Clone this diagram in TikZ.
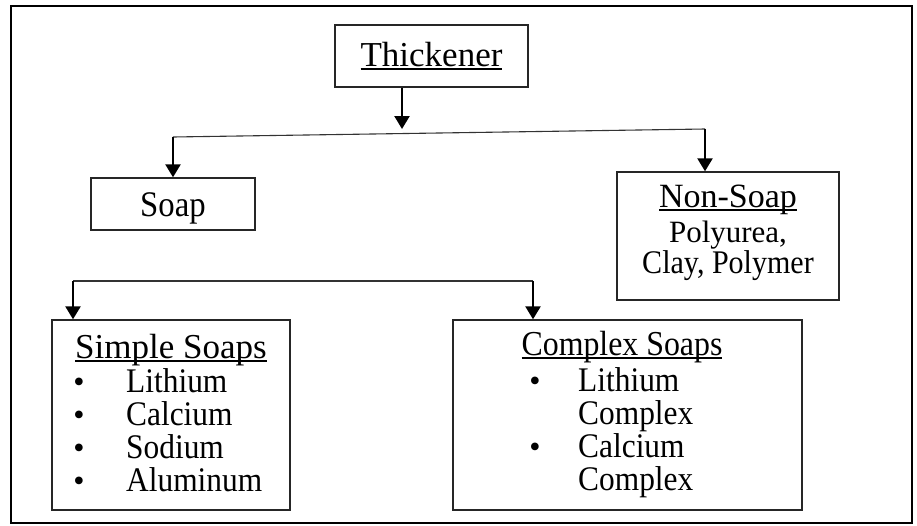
\documentclass[tikz,border=0pt]{standalone}
\usepackage{fontspec}
\setmainfont{Liberation Serif}
\newfontfamily\tallfont{Liberation Serif}[FakeStretch=0.91]
\usetikzlibrary{positioning}
\usetikzlibrary{arrows.meta}
\newcommand{\ulhead}[1]{\setbox0\hbox{#1}\rlap{\rule[-3.5pt]{\wd0}{1.6pt}}\box0}

\begin{document}
\begin{tikzpicture}
			[x=1pt,y=-1pt,
			 box/.style={rectangle,draw=black!85,line width=1.4pt,inner sep=0pt},
			 txt/.style={inner sep=0pt,anchor=base},
			 item/.style={inner sep=0pt,anchor=base west,font=\fontsize{34.5}{40}\tallfont},
			 dot/.style={inner sep=0pt,anchor=base,font=\fontsize{32}{38}\selectfont},
			 feed/.style={line width=2.4pt,-{Triangle[width=15pt,length=13pt]}},
			 branch/.style={line width=1.1pt,draw=black!80}]
			\useasboundingbox (0,0) rectangle (917,525);
			\draw[line width=2pt] (11,6) rectangle (912,523);

			\node (thick) [box,minimum width=193,minimum height=62] at (431.5,56) {};
			\node (t1) [txt,font=\fontsize{35}{42}\selectfont] at (431.5,66) {\ulhead{Thickener}};

			\node (soap) [box,minimum width=164,minimum height=52] at (173,204) {};
			\node (s1) [txt,font=\fontsize{36}{42}\tallfont] at (173,216) {Soap};

			\node (nonsoap) [box,minimum width=222,minimum height=128] at (728,236) {};
			\node (n1) [txt,font=\fontsize{34}{40}\selectfont] at (728,207) {\ulhead{Non-Soap}};
			\node (n2) [txt,font=\fontsize{31}{36}\selectfont] at (728,242) {Polyurea,};
			\node (n3) [txt,font=\fontsize{33}{38}\tallfont] at (728,273) {Clay, Polymer};

			\node (simple) [box,minimum width=238,minimum height=190] at (171,415) {};
			\node (p0) [txt,font=\fontsize{35}{42}\selectfont] at (171,358) {\ulhead{Simple Soaps}};
			\foreach \name/\y/\word in {p1/392/Lithium,p2/425/Calcium,p3/458/Sodium,p4/491/Aluminum} {
				\node (\name b) [dot] at (79,\y) {•};
				\node (\name) [item] at (126,\y) {\word};
			}

			\node (complex) [box,minimum width=349,minimum height=190] at (627.5,415) {};
			\node (c0) [txt,font=\fontsize{35}{42}\tallfont] at (622,355) {\ulhead{Complex Soaps}};
			\node (c1b) [dot] at (535,391) {•};
			\node (c1) [item] at (578,391) {Lithium};
			\node (c2) [item] at (578,424) {Complex};
			\node (c3b) [dot] at (535,457) {•};
			\node (c3) [item] at (578,457) {Calcium};
			\node (c4) [item] at (578,490) {Complex};

			\coordinate (j0) at (402,129);
			\coordinate (j1) at (173,137);
			\coordinate (j2) at (705,129);
			\draw[branch] (j1) -- (j2);
			\draw[feed] (thick.south -| j0) -- (j0);
			\draw[feed] (j1) -- (j1 |- soap.north);
			\draw[feed] (j2) -- (j2 |- nonsoap.north);

			\coordinate (k1) at (73,281);
			\coordinate (k2) at (533,281);
			\draw[branch] (k1) -- (k2);
			\draw[feed] (k1) -- (k1 |- simple.north);
			\draw[feed] (k2) -- (k2 |- complex.north);
		\end{tikzpicture}
\end{document}
